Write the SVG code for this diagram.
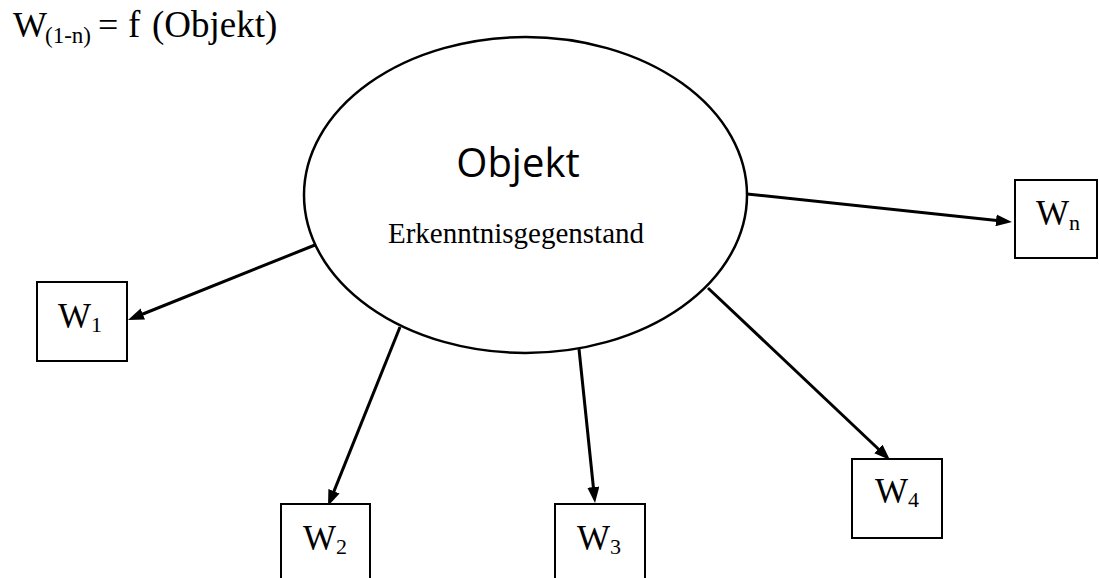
<svg xmlns="http://www.w3.org/2000/svg" width="1099" height="578" viewBox="0 0 1099 578">
<style>
.serif{font-family:"Liberation Serif","Times New Roman",serif;fill:#000}
.box{fill:#fff;stroke:#000;stroke-width:2}
.w{font-size:35px}
.sub{font-size:22px}
.conn{stroke:#000;stroke-width:3;fill:none;marker-end:url(#arr)}
</style>
<defs>
<marker id="arr" viewBox="0 0 16 12" refX="8" refY="6" markerWidth="16" markerHeight="12" markerUnits="userSpaceOnUse" orient="auto">
<path d="M0,0 L16,6 L0,12 Z" fill="#000"/>
</marker>
</defs>
<rect width="1099" height="578" fill="#fff"/>
<g id="title">
<text class="serif" y="37"><tspan x="13" font-size="36">W</tspan><tspan x="45" y="43" font-size="23">(1-n)</tspan><tspan x="98" y="37" font-size="36">=</tspan><tspan x="128" font-size="37">f</tspan><tspan x="152" font-size="37">(Objekt)</tspan></text>
</g>
<g id="connectors">
<line class="conn" x1="315" y1="245" x2="135.4" y2="317"/>
<line class="conn" x1="400" y1="327" x2="331" y2="498.6"/>
<line class="conn" x1="579" y1="349" x2="594.2" y2="495"/>
<line class="conn" x1="708" y1="288" x2="884.2" y2="454.5"/>
<line class="conn" x1="747" y1="194" x2="1004" y2="221.2"/>
</g>
<g id="objekt">
<ellipse cx="525.5" cy="195" rx="221.5" ry="158" fill="#fff" stroke="#000" stroke-width="2.5"/>
<text x="518" y="177" font-family="'Open Sans','Noto Sans',sans-serif" font-size="40" text-anchor="middle">Objekt</text>
<text class="serif" x="516" y="243" font-size="29" text-anchor="middle">Erkenntnisgegenstand</text>
</g>
<g id="w1">
<rect class="box" x="37" y="282" width="90" height="79"/>
<text class="serif w" x="58" y="328">W<tspan class="sub" dy="4">1</tspan></text>
</g>
<g id="w2">
<rect class="box" x="281" y="504" width="89" height="90"/>
<text class="serif w" x="303" y="550">W<tspan class="sub" dy="4">2</tspan></text>
</g>
<g id="w3">
<rect class="box" x="555" y="504" width="90" height="90"/>
<text class="serif w" x="577" y="550">W<tspan class="sub" dy="4">3</tspan></text>
</g>
<g id="w4">
<rect class="box" x="852" y="459" width="90" height="79"/>
<text class="serif w" x="875" y="503">W<tspan class="sub" dy="4">4</tspan></text>
</g>
<g id="wn">
<rect class="box" x="1015" y="180" width="82" height="78"/>
<text class="serif w" x="1036" y="225">W<tspan class="sub" dy="5">n</tspan></text>
</g>
</svg>
